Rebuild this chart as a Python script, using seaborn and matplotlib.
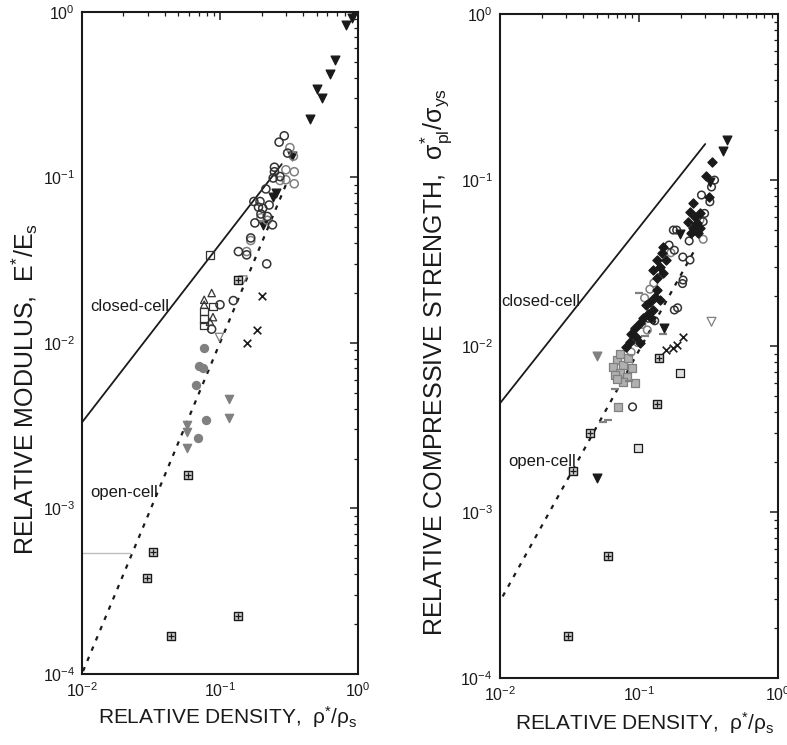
import matplotlib
matplotlib.use("Agg")
import matplotlib.pyplot as plt
import seaborn as sns
from matplotlib.ticker import LogLocator, NullFormatter

# ---------------- left panel: relative modulus ----------------
mod_closed_x = [0.01, 0.28]
mod_closed_y = [0.0033, 0.12]
mod_open_x = [0.0102, 0.30]
mod_open_y = [0.000104, 0.09]
mod_gray_line_x = [0.01, 0.0223]
mod_gray_line_y = [0.00054, 0.00054]

mod_tri_black_x = [0.93, 0.90, 0.815, 0.68, 0.63, 0.50, 0.55, 0.45, 0.33, 0.253, 0.243, 0.204]
mod_tri_black_y = [1.0, 0.91, 0.83, 0.51, 0.42, 0.34, 0.30, 0.225, 0.135, 0.0806, 0.076, 0.0516]

mod_circ_x = [0.292, 0.268, 0.309, 0.248, 0.248, 0.272, 0.243, 0.215, 0.176, 0.195, 0.227,
              0.204, 0.19, 0.198, 0.22, 0.179, 0.24, 0.167, 0.136, 0.218, 0.125, 0.1, 0.087, 0.156]
mod_circ_y = [0.178, 0.163, 0.14, 0.115, 0.108, 0.101, 0.099, 0.085, 0.0714, 0.0714, 0.068,
              0.065, 0.066, 0.06, 0.058, 0.053, 0.0516, 0.043, 0.0356, 0.030, 0.018, 0.017, 0.0121, 0.034]
mod_circ_gray_x = [0.321, 0.34, 0.30, 0.345, 0.30, 0.345, 0.272, 0.22, 0.198, 0.167, 0.156]
mod_circ_gray_y = [0.151, 0.134, 0.111, 0.108, 0.0966, 0.0914, 0.0956, 0.055, 0.057, 0.0415, 0.0356]
mod_tri_up_x = [0.0871, 0.0769, 0.0769, 0.0847, 0.089]
mod_tri_up_y = [0.020, 0.0182, 0.017, 0.0134, 0.0143]
mod_square_x = [0.0847, 0.0893, 0.077, 0.077, 0.077]
mod_square_y = [0.034, 0.0166, 0.0155, 0.0139, 0.0127]
mod_tri_open_x = [0.099, 0.147]
mod_tri_open_y = [0.0108, 0.024]
mod_cross_x = [0.2, 0.184, 0.156]
mod_cross_y = [0.0192, 0.012, 0.010]
mod_dot_gray_x = [0.077, 0.0708, 0.075, 0.0667, 0.0793, 0.0689]
mod_dot_gray_y = [0.0093, 0.0072, 0.0070, 0.00557, 0.00343, 0.00265]
mod_tri_gray_x = [0.117, 0.117, 0.058, 0.058, 0.058]
mod_tri_gray_y = [0.00457, 0.0035, 0.0032, 0.0029, 0.00231]
mod_hatch_x = [0.136, 0.059, 0.0325, 0.0294, 0.044, 0.134]
mod_hatch_y = [0.0238, 0.0016, 0.000543, 0.000382, 0.00017, 0.000225]

# ---------------- right panel: compressive strength ----------------
str_closed_x = [0.01, 0.30]
str_closed_y = [0.0045, 0.165]
str_open_x = [0.0105, 0.25]
str_open_y = [0.00031, 0.0375]

str_tri_black_x = [0.431, 0.40, 0.324, 0.197, 0.151, 0.050]
str_tri_black_y = [0.174, 0.150, 0.0977, 0.0475, 0.0128, 0.0016]
str_diam_x = [0.333, 0.304, 0.321, 0.246, 0.233, 0.275, 0.253, 0.226, 0.26, 0.246, 0.275,
              0.239, 0.268, 0.15, 0.146, 0.134, 0.158, 0.142, 0.127, 0.15, 0.134, 0.134,
              0.12, 0.142, 0.127, 0.107, 0.1015, 0.0885, 0.096, 0.1015, 0.0815, 0.113,
              0.13, 0.117, 0.123, 0.0935, 0.086]
str_diam_y = [0.129, 0.106, 0.079, 0.0724, 0.0644, 0.063, 0.060, 0.0561, 0.0548, 0.0512, 0.0512,
              0.0478, 0.0478, 0.0397, 0.0362, 0.033, 0.033, 0.030, 0.0287, 0.0274, 0.0256, 0.0217,
              0.0185, 0.0189, 0.0165, 0.0147, 0.0137, 0.0119, 0.0114, 0.0104, 0.0099, 0.0177,
              0.0198, 0.0157, 0.0147, 0.0128, 0.0106]
str_circ_x = [0.35, 0.333, 0.282, 0.324, 0.297, 0.29, 0.187, 0.177, 0.18, 0.207, 0.233, 0.23,
              0.165, 0.208, 0.206, 0.18, 0.19, 0.13, 0.117, 0.0901]
str_circ_y = [0.100, 0.0909, 0.0813, 0.074, 0.063, 0.0562, 0.050, 0.050, 0.0378, 0.0344, 0.033,
              0.043, 0.0406, 0.025, 0.0238, 0.0165, 0.017, 0.0142, 0.0147, 0.0043]
str_circ_gray_x = [0.275, 0.259, 0.29, 0.17, 0.12, 0.128, 0.11, 0.115, 0.105, 0.098, 0.088]
str_circ_gray_y = [0.0575, 0.0528, 0.044, 0.0365, 0.022, 0.024, 0.0195, 0.0125, 0.0135, 0.0105, 0.0092]
str_square_gray_x = [0.0692, 0.0773, 0.0654, 0.073, 0.0816, 0.0672, 0.0773, 0.0692, 0.0887,
                     0.0935, 0.0703, 0.073, 0.083]
str_square_gray_y = [0.00824, 0.00769, 0.0075, 0.00685, 0.00653, 0.00669, 0.0061, 0.00636,
                     0.00734, 0.00596, 0.0043, 0.0089, 0.0085]
str_dash_x = [0.1, 0.0672, 0.06, 0.055, 0.11, 0.093, 0.148, 0.085]
str_dash_y = [0.0208, 0.0055, 0.00358, 0.0035, 0.0115, 0.0125, 0.0118, 0.0062]
str_cross_x = [0.158, 0.187, 0.206, 0.175]
str_cross_y = [0.00946, 0.0101, 0.0113, 0.0098]
str_tri_open_x = [0.333]
str_tri_open_y = [0.014]
str_tri_gray_x = [0.0497]
str_tri_gray_y = [0.0087]
str_hatch_x = [0.14, 0.136, 0.0444, 0.0334, 0.060, 0.0307]
str_hatch_y = [0.00843, 0.00448, 0.00298, 0.00177, 0.000543, 0.000179]
str_square_x = [0.197, 0.099]
str_square_y = [0.00685, 0.00242]

DARK = "#1a1a1a"
GRAY = "#808080"

sns.set_theme(style="white")
plt.rcParams["font.family"] = ["Liberation Sans", "DejaVu Sans"]
plt.rcParams["mathtext.fontset"] = "custom"
plt.rcParams["mathtext.rm"] = "Liberation Sans"
plt.rcParams["mathtext.it"] = "Liberation Sans"
plt.rcParams["mathtext.default"] = "regular"


def pts(ax, xs, ys, marker, face=None, edge=DARK, size=30, lw=0.9):
    """Scatter one marker group; face=None means a line-type marker."""
    if face is None:
        sns.scatterplot(x=xs, y=ys, ax=ax, marker=marker, s=size, color=edge,
                        linewidth=lw, legend=False, zorder=3)
    else:
        sns.scatterplot(x=xs, y=ys, ax=ax, marker=marker, s=size, color=edge,
                        facecolor=face, edgecolor=edge, linewidth=lw, legend=False, zorder=3)


def hatched(ax, xs, ys):
    pts(ax, xs, ys, "s", face="#cfcfcf", edge=DARK, size=38, lw=1.0)
    pts(ax, xs, ys, "+", edge=DARK, size=18, lw=0.9)


def style_axes(ax):
    ax.set_xscale("log")
    ax.set_yscale("log")
    ax.set_xlim(1e-2, 1)
    ax.set_ylim(1e-4, 1)
    for a in (ax.xaxis, ax.yaxis):
        a.set_major_locator(LogLocator(base=10))
        a.set_minor_locator(LogLocator(base=10, subs=range(2, 10)))
        a.set_minor_formatter(NullFormatter())
    ax.tick_params(which="both", direction="in", top=True, right=True,
                   color=DARK, labelsize=11.5, labelcolor=DARK)
    ax.tick_params(which="major", length=6, width=1.1, pad=5)
    ax.tick_params(which="minor", length=3, width=0.9)
    for sp in ax.spines.values():
        sp.set_linewidth(1.5)
        sp.set_color(DARK)
    ax.grid(False)


fig = plt.figure(figsize=(7.87, 7.45), dpi=100)
ax1 = fig.add_axes([0.104, 0.0953, 0.351, 0.889])
ax2 = fig.add_axes([0.635, 0.090, 0.3535, 0.891])

# ---- left ----
sns.lineplot(x=mod_closed_x, y=mod_closed_y, ax=ax1, color=DARK, lw=1.3)
sns.lineplot(x=mod_open_x, y=mod_open_y, ax=ax1, color=DARK, lw=1.6, linestyle=(0, (2, 3)))
sns.lineplot(x=mod_gray_line_x, y=mod_gray_line_y, ax=ax1, color="#bdbdbd", lw=1.0)

pts(ax1, mod_tri_black_x, mod_tri_black_y, "v", face=DARK, size=40)
pts(ax1, mod_circ_gray_x, mod_circ_gray_y, "o", face="none", edge=GRAY, size=34, lw=1.1)
pts(ax1, mod_circ_x, mod_circ_y, "o", face="none", edge="#333333", size=34, lw=1.1)
pts(ax1, mod_tri_up_x, mod_tri_up_y, "^", face="none", edge="#333333", size=28)
pts(ax1, mod_square_x, mod_square_y, "s", face="none", edge="#333333", size=30)
pts(ax1, mod_tri_open_x, mod_tri_open_y, "v", face="none", edge=GRAY, size=34)
pts(ax1, mod_cross_x, mod_cross_y, "x", edge=DARK, size=30, lw=1.2)
pts(ax1, mod_dot_gray_x, mod_dot_gray_y, "o", face=GRAY, edge=GRAY, size=34)
pts(ax1, mod_tri_gray_x, mod_tri_gray_y, "v", face=GRAY, edge=GRAY, size=36)
hatched(ax1, mod_hatch_x, mod_hatch_y)

ax1.text(0.0115, 0.0155, "closed-cell", fontsize=12, color=DARK)
ax1.text(0.0115, 0.00118, "open-cell", fontsize=12, color=DARK)

style_axes(ax1)
ax1.set_xlabel(r"RELATIVE DENSITY,  $\rho^{*}/\rho_{s}$", fontsize=15, color=DARK)
ax1.set_ylabel(r"RELATIVE MODULUS,  $E^{*}/E_{s}$", fontsize=18, color=DARK)
ax1.xaxis.set_label_coords(0.53, -0.045)
ax1.yaxis.set_label_coords(-0.15, 0.43)

# ---- right ----
sns.lineplot(x=str_closed_x, y=str_closed_y, ax=ax2, color=DARK, lw=1.3)
sns.lineplot(x=str_open_x, y=str_open_y, ax=ax2, color=DARK, lw=1.6, linestyle=(0, (2, 3)))

pts(ax2, str_square_gray_x, str_square_gray_y, "s", face="#b0b0b0", edge=GRAY, size=30)
pts(ax2, str_dash_x, str_dash_y, "_", edge=GRAY, size=40, lw=1.6)
pts(ax2, str_circ_gray_x, str_circ_gray_y, "o", face="none", edge=GRAY, size=30, lw=1.1)
pts(ax2, str_circ_x, str_circ_y, "o", face="none", edge="#333333", size=30, lw=1.1)
pts(ax2, str_diam_x, str_diam_y, "D", face=DARK, edge=DARK, size=22)
pts(ax2, str_tri_black_x, str_tri_black_y, "v", face=DARK, size=40)
pts(ax2, str_cross_x, str_cross_y, "x", edge=DARK, size=30, lw=1.2)
pts(ax2, str_tri_open_x, str_tri_open_y, "v", face="none", edge=GRAY, size=40)
pts(ax2, str_tri_gray_x, str_tri_gray_y, "v", face=GRAY, edge=GRAY, size=40)
pts(ax2, str_square_x, str_square_y, "s", face="#e0e0e0", edge=DARK, size=34)
hatched(ax2, str_hatch_x, str_hatch_y)

ax2.text(0.0102, 0.0175, "closed-cell", fontsize=12, color=DARK)
ax2.text(0.0115, 0.0019, "open-cell", fontsize=12, color=DARK)

style_axes(ax2)
ax2.set_xlabel(r"RELATIVE DENSITY,  $\rho^{*}/\rho_{s}$", fontsize=15, color=DARK)
ax2.set_ylabel(r"RELATIVE COMPRESSIVE STRENGTH,  $\sigma^{*}_{pl}/\sigma_{ys}$",
               fontsize=18, color=DARK)
ax2.xaxis.set_label_coords(0.52, -0.048)
ax2.yaxis.set_label_coords(-0.165, 0.476)

fig.savefig("out.png", dpi=100)
